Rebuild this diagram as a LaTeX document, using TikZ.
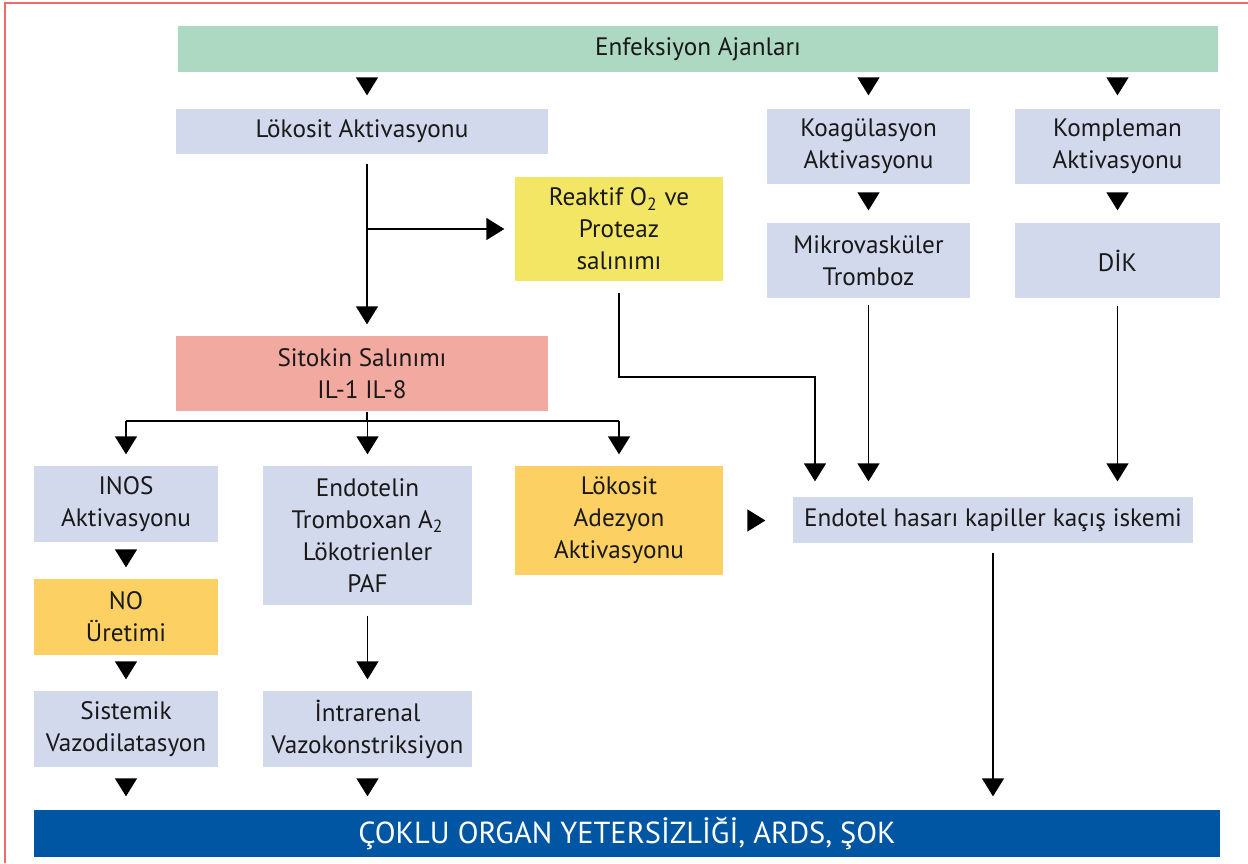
\documentclass[tikz,border=0pt]{standalone}
\usepackage{fontspec}
\setmainfont{PT Sans}
\usepackage{tikz}
\usetikzlibrary{arrows.meta,positioning,calc}

\definecolor{infgreen}{HTML}{ADD8C1}
\definecolor{boxlav}{HTML}{D3D9EC}
\definecolor{boxyellow}{HTML}{F2E664}
\definecolor{boxsalmon}{HTML}{F2A99F}
\definecolor{boxorange}{HTML}{FCD062}
\definecolor{barblue}{HTML}{0056A2}
\definecolor{framered}{HTML}{F06A6A}

\begin{document}
\begin{tikzpicture}[
  x=0.5pt, y=-0.5pt,
  >={Triangle[length=9pt,width=11pt]},
  line width=0.65pt,
  font=\fontsize{12.6}{16}\selectfont,
  box/.style={fill=#1, inner sep=0pt, align=center, text=black!90},
  box/.default=boxlav,
  dim/.style 2 args={minimum width=#1*0.5pt, minimum height=#2*0.5pt},
  solo/.style 2 args={->, shorten <=#1, shorten >=#2},
  frame/.style={draw=framered, line width=1pt},
]
\useasboundingbox (0,0) rectangle (1248,863);
\draw[frame] (5,863) -- (5,2.5) -- (1248,2.5);

% boxes
\node[box=infgreen, dim={1040}{46}] (enf) at (698,49) {Enfeksiyon Ajanları};
\node[box, dim={372}{45}] (lok) at (362,131.5) {Lökosit Aktivasyonu};
\node[box, dim={203}{75}] (koag) at (868.5,146.5) {Koagülasyon\\Aktivasyonu};
\node[box, dim={205}{75}] (komp) at (1117.5,146.5) {Kompleman\\Aktivasyonu};
\node[box=boxyellow, dim={208}{104}] (reaktif) at (619,229)
  {Reaktif O\textsubscript{2} ve\\Proteaz\\salınımı};
\node[box, dim={203}{75}] (mikro) at (868.5,260.5) {Mikrovasküler\\Tromboz};
\node[box, dim={205}{75}] (dik) at (1117.5,260.5) {DİK};
\node[box=boxsalmon, dim={372}{75}] (sitokin) at (362,373.5) {Sitokin Salınımı\\IL-1 IL-8};
\node[box, dim={184}{76}] (inos) at (126,504) {INOS\\Aktivasyonu};
\node[box, dim={209}{139}] (endotelin) at (367.5,535.5)
  {Endotelin\\Tromboxan A\textsubscript{2}\\Lökotrienler\\PAF};
\node[box=boxorange, dim={208}{109}] (adez) at (619,520.5) {Lökosit\\Adezyon\\Aktivasyonu};
\node[box, dim={400}{46}] (endotel) at (993,520) {Endotel hasarı kapiller kaçış iskemi};
\node[box=boxorange, dim={184}{76}] (no) at (126,617) {NO\\Üretimi};
\node[box, dim={184}{76}] (sist) at (126,729) {Sistemik\\Vazodilatasyon};
\node[box, dim={209}{76}] (intra) at (367.5,729) {İntrarenal\\Vazokonstriksiyon};
\node[box=barblue, dim={1186}{47}, text=white, font=\fontsize{15.2}{18}\selectfont]
  (bar) at (627,833.5) {ÇOKLU ORGAN YETERSİZLİĞİ, ARDS, ŞOK};

\coordinate (split) at (367,229);
\coordinate (bend) at (815,377);
\coordinate (hub) at (367,421);

% single triangles
\draw[solo={3.5pt}{6.5pt}] (enf.south -| split) -- (lok.north -| split);
\draw[solo={3.5pt}{6.5pt}] (enf.south -| koag.north) -- (koag.north);
\draw[solo={3.5pt}{6.5pt}] (enf.south -| komp.north) -- (komp.north);
\draw[solo={5pt}{6pt}] (koag) -- (mikro);
\draw[solo={5pt}{6pt}] (komp) -- (dik);
\draw[solo={4.5pt}{5.5pt}] (inos) -- (no);
\draw[solo={4pt}{5.5pt}] (no) -- (sist);
\draw[solo={6.5pt}{6.5pt}] (sist.south) -- (sist.south |- bar.north);
\draw[solo={6.5pt}{6.5pt}] (intra.south) -- (intra.south |- bar.north);
\draw[solo={13pt}{13.5pt}] (adez.east) -- (adez.east -| endotel.west);

% lines
\draw[->, shorten <=4.5pt, shorten >=5.5pt] (lok.south -| split) -- (split |- sitokin.north);
\draw[->, shorten >=5pt] (split) -- (split -| reaktif.west);
\draw[->, shorten <=5.5pt, shorten >=7.5pt] (reaktif.south) |- (bend) -- (bend |- endotel.north);
\draw[->, shorten <=3pt, shorten >=7.5pt] (mikro.south) -- (mikro.south |- endotel.north);
\draw[->, shorten <=3.5pt, shorten >=7.5pt] (dik.south) -- (dik.south |- endotel.north);
\draw (sitokin.south -| hub) -- (hub);
\draw (hub -| inos.north) -- (hub -| adez.north);
\foreach \b in {inos,endotelin,adez}
  \draw[->, shorten >=5.5pt] (hub -| \b.north) -- (\b.north);
\draw[->, shorten <=5pt, shorten >=5.5pt] (endotelin.south) -- (intra.north);
\draw[->, shorten <=4.5pt, shorten >=6.5pt] (endotel.south) -- (endotel.south |- bar.north);
\end{tikzpicture}
\end{document}
